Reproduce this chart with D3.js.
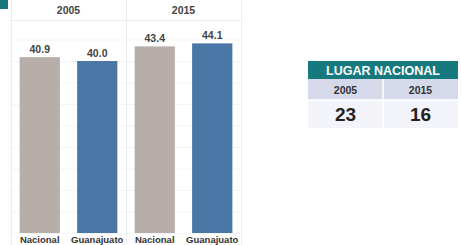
<!DOCTYPE html>
<html>
<head>
<meta charset="utf-8">
<script src="https://cdn.jsdelivr.net/npm/d3@7"></script>
<style>
  body { margin: 0; background: #fff; }
  svg { display: block; font-family: "Liberation Sans", Arial, sans-serif; }
</style>
</head>
<body>
<div id="chart-area"></div>
<script>
const years = ["2005", "2015"];
const regions = ["Nacional", "Guanajuato"];
const values2005 = [40.9, 40.0];
const values2015 = [43.4, 44.1];
const rankYears = ["2005", "2015"];
const rankValues = [23, 16];

const width = 461;
const height = 245;

const svg = d3.select("#chart-area")
    .append("svg")
    .attr("width", width)
    .attr("height", height);

const colors = { "Nacional": "#b7aea9", "Guanajuato": "#4b77a7" };

// little teal tab top-left
svg.append("rect").attr("x", 0).attr("y", 0).attr("width", 8).attr("height", 9).attr("fill", "#16797d");

const panelX = d3.scaleBand().domain(years).range([11, 241]);
const y = d3.scaleLinear().domain([0, 50]).range([233, 18]);

const plotTop = 20;

// faint gridlines
svg.append("g")
    .selectAll("line")
    .data(d3.range(0, 50, 5))
    .join("line")
    .attr("x1", 11).attr("x2", 241)
    .attr("y1", d => y(d) + 0.5).attr("y2", d => y(d) + 0.5)
    .attr("stroke", "#f5f5f5");

// panel borders
svg.append("line").attr("x1", 11.5).attr("x2", 11.5).attr("y1", 0).attr("y2", height).attr("stroke", "#ececec");
svg.append("line").attr("x1", panelX("2015") + 0.5).attr("x2", panelX("2015") + 0.5).attr("y1", 0).attr("y2", height).attr("stroke", "#ececec");
svg.append("line").attr("x1", 241.5).attr("x2", 241.5).attr("y1", 0).attr("y2", height).attr("stroke", "#f0f0f0");
svg.append("line").attr("x1", 11).attr("x2", 241).attr("y1", plotTop + 0.5).attr("y2", plotTop + 0.5).attr("stroke", "#ececec");

const data = [
    { year: "2005", values: values2005 },
    { year: "2015", values: values2015 }
];

const panel = svg.selectAll("g.panel")
    .data(data)
    .join("g")
    .attr("class", "panel")
    .attr("transform", d => `translate(${panelX(d.year)},0)`);

panel.append("text")
    .attr("x", panelX.bandwidth() / 2)
    .attr("y", 14)
    .attr("text-anchor", "middle")
    .style("font-size", "10.5px")
    .style("font-weight", "bold")
    .style("fill", "#444")
    .text(d => d.year);

const x = d3.scaleBand().domain(regions).range([0, panelX.bandwidth()]).paddingInner(0.3).paddingOuter(0.15);

const bars = panel.selectAll("g.bar")
    .data(d => d.values.map((v, i) => ({ region: regions[i], value: v })))
    .join("g")
    .attr("class", "bar");

bars.append("rect")
    .attr("x", d => x(d.region))
    .attr("width", x.bandwidth())
    .attr("y", d => y(d.value))
    .attr("height", d => y(0) - y(d.value))
    .attr("fill", d => colors[d.region]);

bars.append("text")
    .attr("x", d => x(d.region) + x.bandwidth() / 2)
    .attr("y", d => y(d.value) - 4)
    .attr("text-anchor", "middle")
    .style("font-size", "10.5px")
    .style("font-weight", "bold")
    .style("fill", "#444")
    .text(d => d.value.toFixed(1));

bars.append("text")
    .attr("x", d => x(d.region) + x.bandwidth() / 2)
    .attr("y", 243)
    .attr("text-anchor", "middle")
    .style("font-size", "9.5px")
    .style("font-weight", "bold")
    .style("fill", "#333")
    .text(d => d.region);

// ranking table
const tx = 308, tw = 150;
const tcol = d3.scaleBand().domain(rankYears).range([tx, tx + tw]);
svg.append("rect").attr("x", tx).attr("y", 61).attr("width", tw).attr("height", 18).attr("fill", "#16797d");
svg.append("text").attr("x", tx + tw / 2).attr("y", 75).attr("text-anchor", "middle")
    .style("font-size", "12.5px").style("font-weight", "bold").style("fill", "#fff")
    .text("LUGAR NACIONAL");
svg.append("rect").attr("x", tx).attr("y", 79).attr("width", tw).attr("height", 21).attr("fill", "#d5d9ea");
svg.append("rect").attr("x", tx).attr("y", 100).attr("width", tw).attr("height", 28).attr("fill", "#f3f4f9");
svg.append("line").attr("x1", tcol("2015")).attr("x2", tcol("2015")).attr("y1", 79).attr("y2", 128).attr("stroke", "#fff").attr("stroke-width", 1.5);
svg.append("line").attr("x1", tx).attr("x2", tx + tw).attr("y1", 100).attr("y2", 100).attr("stroke", "#fff").attr("stroke-width", 1.5);

svg.selectAll("text.ryear")
    .data(rankYears)
    .join("text")
    .attr("class", "ryear")
    .attr("x", d => tcol(d) + tcol.bandwidth() / 2)
    .attr("y", 94)
    .attr("text-anchor", "middle")
    .style("font-size", "10.5px")
    .style("font-weight", "bold")
    .style("fill", "#333")
    .text(d => d);

svg.selectAll("text.rval")
    .data(rankValues)
    .join("text")
    .attr("class", "rval")
    .attr("x", (d, i) => tcol(rankYears[i]) + tcol.bandwidth() / 2)
    .attr("y", 121)
    .attr("text-anchor", "middle")
    .style("font-size", "19px")
    .style("font-weight", "bold")
    .style("fill", "#222")
    .text(d => d);
</script>
</body>
</html>
